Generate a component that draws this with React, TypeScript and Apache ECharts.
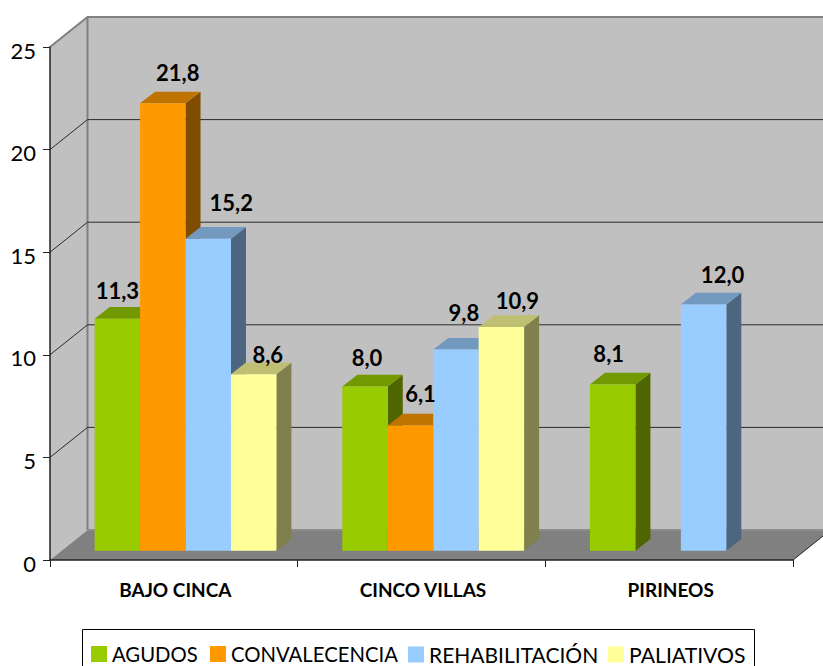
import React, { useEffect, useRef } from "react";
import * as echarts from "echarts";

const categories = ["BAJO CINCA", "CINCO VILLAS", "PIRINEOS"];
const seriesNames = ["AGUDOS", "CONVALECENCIA", "REHABILITACIÓN", "PALIATIVOS"];
const agudos = [11.3, 8.0, 8.1];
const convalecencia = [21.8, 6.1, null];
const rehabilitacion = [15.2, 9.8, 12.0];
const paliativos = [8.6, 10.9, null];
const yTicks = [0, 5, 10, 15, 20, 25];

const front = ["#99CC00", "#FF9900", "#99CCFF", "#FFFF99"];
const side = ["#4F6600", "#804D00", "#4D6680", "#80804D"];
const top = ["#739900", "#BF7300", "#7399BF", "#BFBF73"];

// label nudges (px from the bar's front-top centre), by series then category
const nudgeX = [[0, 2, -4], [15, 10, 0], [23, 8, 19], [14, 16, 0]];
const nudgeY = [[-28, -29, -31], [-31, -32, 0], [-36, -37, -30], [-20, -27, 0]];

// legend entries: swatch left edge and font size
const legendLeft = [91, 210, 408, 608];
const legendFont = [20.3, 20.3, 21, 21.2];

const WALL_DX = 37.5, WALL_DY = -30;
const BAR_DX = 11.7, BAR_DY = -9.3;
const SIDE_DX = 15, SIDE_DY = -11.7;
const BAR_W_RATIO = 0.1835;

function App() {
  const ref = useRef<HTMLDivElement>(null);
  useEffect(() => {
    const chart = echarts.init(ref.current!, null, { renderer: "svg" });
    const values = [agudos, convalecencia, rehabilitacion, paliativos];

    const wallRender = (params: any, api: any) => {
      const v = api.value(0);
      const [x0, y] = api.coord([0, v]);
      const xLeft = x0 - api.size([1, 0])[0] / 2;
      const xRight = xLeft + api.size([1, 0])[0] * 3;
      const yBase = api.coord([0, 0])[1];
      const yTop = api.coord([0, 25])[1];
      const children: any[] = [];
      if (v === 0) {
        children.push(
          { type: "polygon", shape: { points: [[xLeft + WALL_DX, yTop + WALL_DY], [xRight + WALL_DX, yTop + WALL_DY], [xRight + WALL_DX, yBase + WALL_DY], [xLeft + WALL_DX, yBase + WALL_DY]] }, style: { fill: "#C0C0C0" } },
          { type: "polygon", shape: { points: [[xLeft, yBase], [xLeft + WALL_DX, yBase + WALL_DY], [xLeft + WALL_DX, yTop + WALL_DY], [xLeft, yTop]] }, style: { fill: "#C0C0C0" } },
          { type: "polygon", shape: { points: [[xLeft, yBase], [xRight, yBase], [xRight + WALL_DX, yBase + WALL_DY], [xLeft + WALL_DX, yBase + WALL_DY]] }, style: { fill: "#808080" } },
          { type: "polyline", shape: { points: [[xLeft, yTop], [xLeft + WALL_DX, yTop + WALL_DY], [xRight + WALL_DX, yTop + WALL_DY]] }, style: { fill: "none", stroke: "#808080", lineWidth: 2 } },
          { type: "line", shape: { x1: xLeft + WALL_DX, y1: yTop + WALL_DY, x2: xLeft + WALL_DX, y2: yBase + WALL_DY }, style: { stroke: "#808080", lineWidth: 2 } },
          { type: "line", shape: { x1: xLeft + WALL_DX, y1: yBase + WALL_DY, x2: xRight + WALL_DX, y2: yBase + WALL_DY }, style: { stroke: "#8C8C8C", lineWidth: 2 } },
          { type: "line", shape: { x1: xRight, y1: yBase, x2: xRight + WALL_DX, y2: yBase + WALL_DY }, style: { stroke: "#222", lineWidth: 1 } }
        );
      } else if (v !== 25) {
        children.push(
          { type: "polyline", shape: { points: [[xLeft, y], [xLeft + WALL_DX, y + WALL_DY], [xRight + WALL_DX, y + WALL_DY]] }, style: { fill: "none", stroke: "#2A2A2A", lineWidth: 1 } }
        );
      }
      return { type: "group", children };
    };

    const barRender = (s: number) => (params: any, api: any) => {
      const cat = api.value(0);
      const v = api.value(1);
      const [cx, yv] = api.coord([cat, v]);
      const [, y0] = api.coord([cat, 0]);
      const bw = api.size([1, 0])[0] * BAR_W_RATIO;
      const x = cx + BAR_DX - 2 * bw + s * bw;
      const yt = yv + BAR_DY;
      const yb = y0 + BAR_DY;
      return {
        type: "group",
        children: [
          { type: "polygon", shape: { points: [[x + bw, yt], [x + bw + SIDE_DX, yt + SIDE_DY], [x + bw + SIDE_DX, yb + SIDE_DY], [x + bw, yb]] }, style: { fill: side[s] } },
          { type: "polygon", shape: { points: [[x, yt], [x + SIDE_DX, yt + SIDE_DY], [x + bw + SIDE_DX, yt + SIDE_DY], [x + bw, yt]] }, style: { fill: top[s] } },
          { type: "rect", shape: { x, y: yt, width: bw, height: yb - yt }, style: { fill: front[s] } },
        ],
      };
    };

    const labelRender = (s: number) => (params: any, api: any) => {
      const cat = api.value(0);
      const v = api.value(1);
      const [cx, yv] = api.coord([cat, v]);
      const bw = api.size([1, 0])[0] * BAR_W_RATIO;
      const x = cx + BAR_DX - 2 * bw + s * bw + bw / 2 + nudgeX[s][cat];
      const y = yv + BAR_DY + nudgeY[s][cat];
      return {
        type: "text",
        x,
        y,
        style: {
          text: v.toFixed(1).replace(".", ","),
          fill: "#000",
          font: "bold 22px Lato",
          align: "center",
          verticalAlign: "middle",
        },
      };
    };

    const pts = (s: number) =>
      values[s].map((v, i) => (v == null ? null : [i, v])).filter(Boolean);

    chart.setOption({
      animation: false,
      backgroundColor: "#fff",
      graphic: [
        { type: "rect", shape: { x: 82.5, y: 629.5, width: 672, height: 50 }, style: { fill: "none", stroke: "#000", lineWidth: 1 } },
      ],
      legend: seriesNames.map((name, i) => ({
        data: [name],
        left: legendLeft[i],
        top: 644,
        icon: "rect",
        itemWidth: 16,
        itemHeight: 16,
        padding: 0,
        textStyle: { fontFamily: "Lato", fontSize: legendFont[i], color: "#000" },
        selectedMode: false,
      })),
      grid: { left: 50, right: 30, top: 47, bottom: 106 },
      xAxis: {
        type: "category",
        data: categories,
        z: 10,
        axisLine: { lineStyle: { color: "#222", width: 1.5 } },
        axisTick: { show: true, length: 7, lineStyle: { color: "#222" }, alignWithLabel: false },
        axisLabel: { fontFamily: "Lato", fontWeight: "bold", fontSize: 19, color: "#000", margin: 20, padding: [0, 0, 0, 3] },
      },
      yAxis: {
        type: "value",
        min: 0,
        max: 25,
        interval: 5,
        z: 10,
        splitLine: { show: false },
        axisLine: { show: true, lineStyle: { color: "#222", width: 1.5 } },
        axisTick: { show: true, length: 7, lineStyle: { color: "#222" } },
        axisLabel: { fontFamily: "Lato", fontSize: 22, color: "#000", margin: 14, verticalAlign: "top", lineHeight: 6 },
      },
      series: [
        { type: "custom", name: "walls", z: 1, silent: true, data: yTicks.map((v) => [v]), encode: { y: 0 }, renderItem: wallRender },
        ...seriesNames.map((name, s) => ({
          type: "custom",
          name,
          z: 2 + s,
          itemStyle: { color: front[s] },
          data: pts(s),
          encode: { x: 0, y: 1 },
          renderItem: barRender(s),
        })),
        ...seriesNames.map((name, s) => ({
          type: "custom",
          name: name + " labels",
          z: 8,
          silent: true,
          data: pts(s),
          encode: { x: 0, y: 1 },
          renderItem: labelRender(s),
        })),
      ],
    });
    return () => chart.dispose();
  }, []);
  return <div ref={ref} style={{ position: "absolute", left: 0, top: 0, width: 823, height: 666 }} />;
}

export default App;
